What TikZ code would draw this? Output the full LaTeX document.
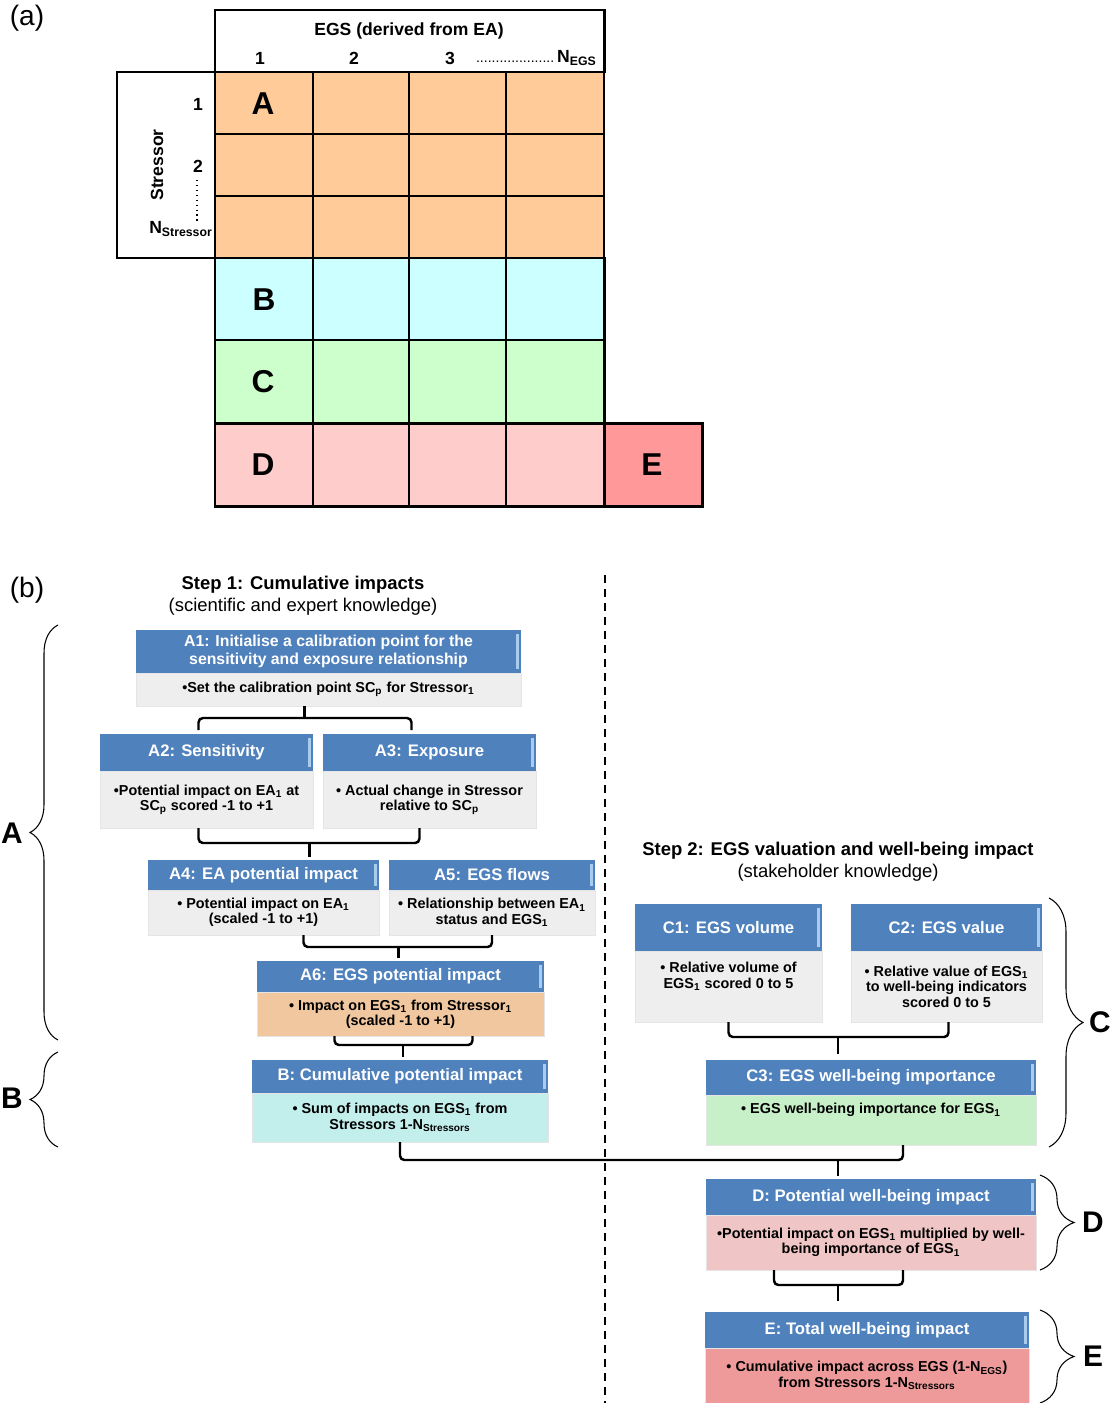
\documentclass[tikz,border=0pt]{standalone}
\usepackage{fontspec}
\setmainfont{Liberation Sans}
\usetikzlibrary{positioning,calc,decorations.pathreplacing}
\definecolor{cellA}{HTML}{FFCC99}
\definecolor{cellB}{HTML}{CCFFFF}
\definecolor{cellC}{HTML}{CCFFCC}
\definecolor{cellD}{HTML}{FFCCCC}
\definecolor{cellE}{HTML}{FF9999}
\definecolor{hdrblue}{HTML}{4F81BD}
\definecolor{stripe}{HTML}{A8CBEE}
\definecolor{bgrey}{HTML}{EEEEEE}
\definecolor{bA6}{HTML}{F0C79E}
\definecolor{bB}{HTML}{C2EEEC}
\definecolor{bC3}{HTML}{C8F0C8}
\definecolor{bD}{HTML}{EFC5C5}
\definecolor{bE}{HTML}{EE9A9A}
\newcommand{\pxu}{0.02cm}
\newcommand{\sbs}[1]{\textsubscript{#1}}

\tikzset{
  wh/.style 2 args={minimum width=#1*\pxu, minimum height=#2*\pxu},
  hdr/.style={fill=hdrblue, text=white, inner sep=1pt, outer sep=0pt, align=center,
    anchor=north west, font=\fontsize{9.5}{10}\selectfont\bfseries,
    path picture={\draw[stripe, line width=1.6pt]
      ([xshift=-2.2pt,yshift=-2.5pt]path picture bounding box.north east) --
      ([xshift=-2.2pt,yshift=2.5pt]path picture bounding box.south east);}},
  body/.style={fill=#1, draw=black!10, inner sep=1pt, outer sep=0pt, align=center,
    font=\fontsize{8.2}{8.8}\selectfont\bfseries},
  link/.style={line width=1.4pt, rounded corners=2.5pt},
  grp/.style={decorate, decoration={brace, amplitude=#1}, line width=0.6pt},
  side/.style={font=\fontsize{17}{17}\selectfont\bfseries, inner sep=0pt},
  big/.style={font=\fontsize{18}{18}\selectfont\bfseries, inner sep=0pt},
  tab/.style={font=\fontsize{10}{10}\selectfont\bfseries, inner sep=0pt},
  thinline/.style={line width=0.75pt},
  boldline/.style={line width=1.7pt},
}

\begin{document}
\begin{tikzpicture}[x=0.02cm, y=-0.02cm]
  \useasboundingbox (0,0) rectangle (1115,1403);

  % (a) the score table
  \node[font=\fontsize{16}{16}\selectfont] (pa) at (27,18) {(a)};
  \fill[cellA] (215,72) rectangle (604,258);
  \fill[cellB] (215,258) rectangle (604,340);
  \fill[cellC] (215,340) rectangle (604,423);
  \fill[cellD] (215,423) rectangle (604,506);
  \fill[cellE] (604,423) rectangle (702,506);
  \foreach \x in {313,409,506} \draw[thinline] (\x,72) -- (\x,506);
  \foreach \y in {134,196} \draw[thinline] (215,\y) -- (604,\y);
  \draw[thinline] (604,72) -- (604,258);
  \draw[boldline] (215,10) rectangle (604,72);
  \draw[boldline] (117,72) rectangle (215,258);
  \foreach \ya/\yb in {258/340, 340/423, 423/506}
    \draw[boldline] (215,\ya) rectangle (604,\yb);
  \draw[boldline] (604,423) rectangle (702,506);

  \node[tab] (egs) at (409,31) {EGS (derived from EA)};
  \node[tab] (col1) at (260,58) {1};
  \node[tab] (col2) at (354,58) {2};
  \node[tab] (col3) at (450,58) {3};
  \node[tab, anchor=east] (coln) at (597,58)
    {{\mdseries\fontsize{8}{8}\selectfont ....................}\,N\sbs{EGS}};
  \node[tab, rotate=90] (strs) at (157,165) {Stressor};
  \node[tab] (row1) at (198,104) {1};
  \node[tab] (row2) at (198,166) {2};
  \draw[dotted, line width=0.8pt] (197,180) -- (197,222);
  \node[tab] (rown) at (181,229) {N\sbs{Stressor}};

  \node[big] (tA) at (263,104) {A};
  \node[big] (tB) at (264,300) {B};
  \node[big] (tC) at (263,382) {C};
  \node[big] (tD) at (263,465) {D};
  \node[big] (tE) at (652,465) {E};

  % (b) the two steps
  \node[font=\fontsize{16}{16}\selectfont] (pb) at (27,590) {(b)};
  \node[align=center, font=\fontsize{10.5}{12.5}\selectfont] (step1) at (303,596)
    {\textbf{Step 1: Cumulative impacts}\\(scientific and expert knowledge)};
  \node[align=center, font=\fontsize{10.5}{12.5}\selectfont] (step2) at (838,862)
    {\textbf{Step 2: EGS valuation and well-being impact}\\(stakeholder knowledge)};
  \draw[line width=1.2pt, dash pattern=on 0.16cm off 0.12cm] (605,575) -- (605,1403);

  \node[hdr, wh={385}{43}, font=\fontsize{9}{9.8}\selectfont\bfseries] (a1h) at (136,630)
    {A1: Initialise a calibration point for the\\sensitivity and exposure relationship};
  \node[body=bgrey, wh={385}{33}, below=0pt of a1h] (a1b)
    {\textbullet Set the calibration point SC\sbs{p} for Stressor\sbs{1}};
  \node[hdr, wh={213}{37}] (a2h) at (100,734) {A2: Sensitivity};
  \node[body=bgrey, wh={213}{57}, below=0pt of a2h] (a2b)
    {\textbullet Potential impact on EA\sbs{1} at\\SC\sbs{p} scored -1 to +1};
  \node[hdr, wh={213}{37}] (a3h) at (323,734) {A3: Exposure};
  \node[body=bgrey, wh={213}{57}, below=0pt of a3h] (a3b)
    {\textbullet\ Actual change in Stressor\\relative to SC\sbs{p}};
  \node[hdr, wh={231}{30}] (a4h) at (148,860) {A4: EA potential impact};
  \node[body=bgrey, wh={231}{45}, below=0pt of a4h] (a4b)
    {\textbullet\ Potential impact on EA\sbs{1}\\(scaled -1 to +1)};
  \node[hdr, wh={206}{30}] (a5h) at (389,860) {A5: EGS flows};
  \node[body=bgrey, wh={206}{45}, below=0pt of a5h] (a5b)
    {\textbullet\ Relationship between EA\sbs{1}\\status and EGS\sbs{1}};
  \node[hdr, wh={287}{31}] (a6h) at (257,961) {A6: EGS potential impact};
  \node[body=bA6, wh={287}{44}, below=0pt of a6h] (a6b)
    {\textbullet\ Impact on EGS\sbs{1} from Stressor\sbs{1}\\(scaled -1 to +1)};
  \node[hdr, wh={296}{33}] (bh) at (252,1060) {B: Cumulative potential impact};
  \node[body=bB, wh={296}{49}, below=0pt of bh] (bb)
    {\textbullet\ Sum of impacts on EGS\sbs{1} from\\Stressors 1-N\sbs{Stressors}};

  \node[hdr, wh={187}{47}] (c1h) at (635,904) {C1: EGS volume};
  \node[body=bgrey, wh={187}{71}, below=0pt of c1h, text depth=0.45cm] (c1b)
    {\textbullet\ Relative volume of\\EGS\sbs{1} scored 0 to 5};
  \node[hdr, wh={191}{47}] (c2h) at (851,904) {C2: EGS value};
  \node[body=bgrey, wh={191}{71}, below=0pt of c2h] (c2b)
    {\textbullet\ Relative value of EGS\sbs{1}\\to well-being indicators\\scored 0 to 5};
  \node[hdr, wh={330}{35}] (c3h) at (706,1060) {C3: EGS well-being importance};
  \node[body=bC3, wh={330}{50}, below=0pt of c3h, text depth=0.45cm] (c3b)
    {\textbullet\ EGS well-being importance for EGS\sbs{1}};
  \node[hdr, wh={330}{36}] (dh) at (706,1179) {D: Potential well-being impact};
  \node[body=bD, wh={330}{55}, below=0pt of dh] (db)
    {\textbullet Potential impact on EGS\sbs{1} multiplied by well-\\being importance of EGS\sbs{1}};
  \node[hdr, wh={324}{36}] (eh) at (705,1312) {E: Total well-being impact};
  \node[body=bE, wh={324}{55}, below=0pt of eh] (eb)
    {\textbullet\ Cumulative impact across EGS (1-N\sbs{EGS})\\from Stressors 1-N\sbs{Stressors}};

  % brackets between the boxes
  \draw[link] ($(a2h.north)+(-8,-4)$) |- ($(a1b.south)+(-24,12)$) -| ($(a3h.north)+(-18,-4)$);
  \draw[link] (a1b.south -| {$(a1b.south)+(-24,0)$}) -- ($(a1b.south)+(-24,12)$);
  \draw[link] ($(a2b.south)+(-8,0)$) |- ($(a4h.north)+(46,-17)$) -| ($(a3b.south)+(-10,0)$);
  \draw[link] ($(a4h.north)+(46,-17)$) -- ($(a4h.north)+(46,-3)$);
  \draw[link] ($(a4b.south)+(40,0)$) |- ($(a6h.north)+(-2,-14)$) -| (a5b.south);
  \draw[link] ($(a6h.north)+(-2,-14)$) -- ($(a6h.north)+(-2,-3)$);
  \draw[link] ($(a6b.south)+(-66,0)$) |- ($(bh.north)+(3,-15)$) -| ($(a6b.south)+(72,0)$);
  \draw[link] ($(bh.north)+(3,-15)$) -- ($(bh.north)+(3,-3)$);
  \draw[link] (c1b.south) |- ($(c3h.north)+(-33,-23)$) -| ($(c2b.south)+(2,0)$);
  \draw[link] ($(c3h.north)+(-33,-23)$) -- ($(c3h.north)+(-33,-6)$);
  \draw[link] (bb.south) |- ($(dh.north)+(-33,-19)$) -| ($(c3b.south)+(32,0)$);
  \draw[link] ($(dh.north)+(-33,-19)$) -- ($(dh.north)+(-33,-3)$);
  \draw[link] ($(db.south)+(-97,0)$) |- ($(eh.north)+(-29,-27)$) -| ($(db.south)+(32,0)$);
  \draw[link] ($(eh.north)+(-29,-27)$) -- ($(eh.north)+(-29,-11)$);

  % braces naming the parts
  \draw[grp=0.56cm] (58,1040) -- (58,625);
  \node[side] (la) at (12,833) {A};
  \draw[grp=0.56cm] (58,1147) -- (58,1052);
  \node[side] (lb) at (12,1098) {B};
  \draw[grp=0.68cm] (1049,898) -- (1049,1147);
  \node[side] (lc) at (1100,1022) {C};
  \draw[grp=0.68cm] (1040,1175) -- (1040,1270);
  \node[side] (ld) at (1093,1222) {D};
  \draw[grp=0.68cm] (1040,1310) -- (1040,1403);
  \node[side] (le) at (1093,1356) {E};
\end{tikzpicture}
\end{document}
